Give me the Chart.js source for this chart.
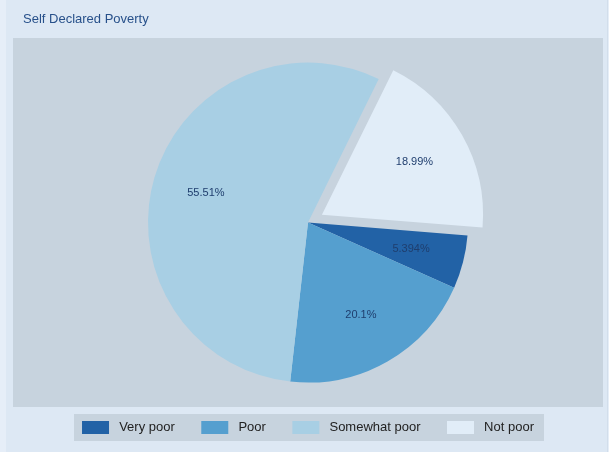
<!DOCTYPE html>
<html>
<head>
<meta charset="utf-8">
<script src="https://cdn.jsdelivr.net/npm/chart.js@4"></script>
<style>
  html, body { margin: 0; padding: 0; background: #dde8f4; }
  #wrap { width: 609px; height: 452px; }
</style>
</head>
<body>
<div id="wrap"><canvas id="myChart"></canvas></div>
<script>
const categories = ['Very poor', 'Poor', 'Somewhat poor', 'Not poor'];
const shares = [5.394, 20.1, 55.51, 18.99];
const shareLabels = ['5.394%', '20.1%', '55.51%', '18.99%'];
const sliceColors = ['#2262a6', '#559fcf', '#a8cfe4', '#e1edf8'];
const explode = [0, 0, 0, 16]; // px the slice is pulled out

const textColor = '#1f3e6e';

// grey plot panel + legend panel behind the chart
const panels = {
  id: 'panels',
  beforeDraw(chart) {
    const ctx = chart.ctx;
    ctx.save();
    ctx.fillStyle = '#e6eef8';
    ctx.fillRect(0, 0, chart.width, chart.height);
    ctx.fillStyle = '#dde8f4';
    ctx.fillRect(6, 0, 601, chart.height);
    ctx.fillStyle = '#d2deeb';
    ctx.fillRect(607, 0, 1, chart.height);
    ctx.fillStyle = '#c7d3de';
    ctx.fillRect(13, 38, 590, 369);
    const boxes = chart.legend.legendHitBoxes;
    if (boxes && boxes.length) {
      const first = boxes[0];
      const last = boxes[boxes.length - 1];
      ctx.fillRect(first.left - 8, first.top - 7, last.left + last.width - first.left + 18, first.height + 14);
    }
    ctx.restore();
  }
};

// percentage labels inside the slices
const sliceLabels = {
  id: 'sliceLabels',
  afterDatasetsDraw(chart) {
    const ctx = chart.ctx;
    const meta = chart.getDatasetMeta(0);
    ctx.save();
    ctx.font = '11px "Liberation Sans", Arial, sans-serif';
    ctx.fillStyle = textColor;
    ctx.textAlign = 'center';
    ctx.textBaseline = 'middle';
    meta.data.forEach((arc, i) => {
      const p = arc.getProps(['x', 'y', 'startAngle', 'endAngle', 'outerRadius'], true);
      const mid = (p.startAngle + p.endAngle) / 2;
      const r = p.outerRadius * 0.665 + explode[i];
      ctx.fillText(shareLabels[i], p.x + Math.cos(mid) * r, p.y + Math.sin(mid) * r);
    });
    ctx.restore();
  }
};

const config = {
  type: 'pie',
  data: {
    labels: categories,
    datasets: [{
      data: shares,
      backgroundColor: sliceColors,
      borderWidth: 0,
      // chart.js v4 draws arcs at offset / 4
      offset: explode.map(v => v * 4),
    }],
  },
  options: {
    responsive: false,
    animation: false,
    rotation: 94.6,
    radius: 160,
    layout: {
      padding: { top: 4, left: 23, right: 16, bottom: 8 },
    },
    plugins: {
      title: {
        display: true,
        text: 'Self Declared Poverty',
        align: 'start',
        color: '#27508a',
        font: { family: '"Liberation Sans", Arial, sans-serif', size: 13, weight: 'normal' },
        padding: { top: 8, bottom: 23 },
      },
      legend: {
        position: 'bottom',
        labels: {
          color: '#222222',
          boxWidth: 27,
          boxHeight: 13,
          padding: 26.5,
          font: { family: '"Liberation Sans", Arial, sans-serif', size: 13 },
          generateLabels(chart) {
            const items = Chart.overrides.pie.plugins.legend.labels.generateLabels(chart);
            items.forEach(it => { it.text = ' ' + it.text; });
            return items;
          },
        },
      },
      tooltip: { enabled: false },
    },
  },
  plugins: [panels, sliceLabels],
};

const canvas = document.getElementById('myChart');
canvas.width = 609;
canvas.height = 452;
const myChart = new Chart(canvas, config);
</script>
</body>
</html>
